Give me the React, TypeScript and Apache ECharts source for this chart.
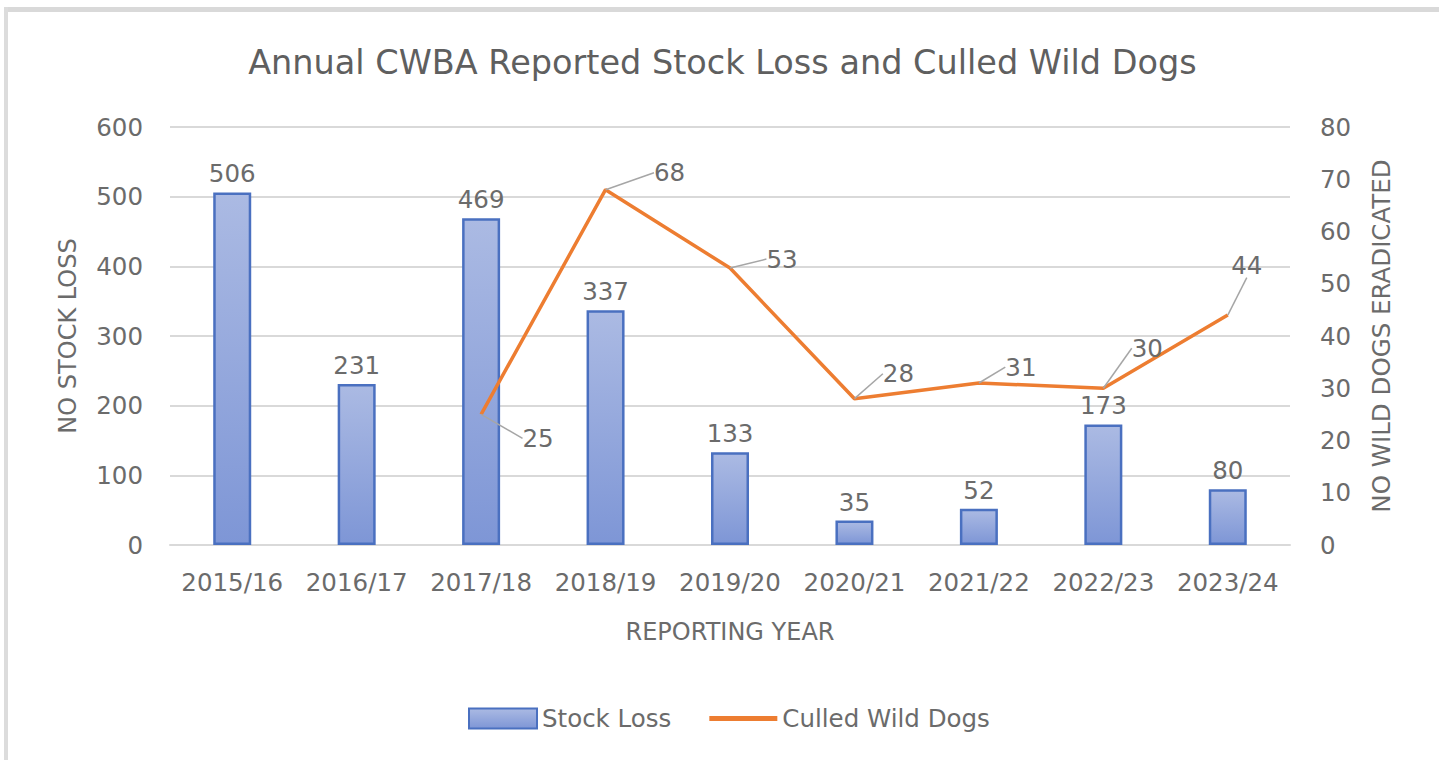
import React, { useEffect, useRef } from "react";
import * as echarts from "echarts";

const categories = ["2015/16", "2016/17", "2017/18", "2018/19", "2019/20", "2020/21", "2021/22", "2022/23", "2023/24"];
const stockLoss = [506, 231, 469, 337, 133, 35, 52, 173, 80];
const culledDogs: (number | string)[] = ["-", "-", 25, 68, 53, 28, 31, 30, 44];
const leftTicks = { min: 0, max: 600, interval: 100 };
const rightTicks = { min: 0, max: 80, interval: 10 };

// label offsets (style only) for the line's data labels
const lineLabelOffsets: [number, number][] = [
  [0, 0], [0, 0], [57, 24], [64, -17], [52, -9], [44, -25], [42, -16], [44, -40], [19, -50],
];

const FONT = "DejaVu Sans";
const TXT = "#6b6b6b";
const TICK = 24.5;

export default function App() {
  const ref = useRef<HTMLDivElement>(null);
  useEffect(() => {
    if (!ref.current) return;
    const chart = echarts.init(ref.current, null, { renderer: "svg" });
    chart.setOption({
      animation: false,
      backgroundColor: "#ffffff",
      textStyle: { fontFamily: FONT, color: TXT },
      title: {
        text: "Annual CWBA Reported Stock Loss and Culled Wild Dogs",
        left: "center",
        top: 40,
        textStyle: { fontFamily: FONT, fontSize: 33.5, fontWeight: "normal", color: "#5f5f5f" },
      },
      graphic: [
        { type: "rect", shape: { x: 4, y: 7, width: 1435, height: 5 }, style: { fill: "#d9d9d9" } },
        { type: "rect", shape: { x: 4, y: 7, width: 4, height: 753 }, style: { fill: "#dcdcdc" } },
      ],
      legend: {
        bottom: 24,
        left: 463,
        itemWidth: 68,
        itemHeight: 20,
        itemGap: 38,
        textStyle: { fontFamily: FONT, fontSize: 24.5, color: TXT },
        data: [
          { name: "Stock Loss", icon: "rect" },
          { name: "Culled Wild Dogs", icon: "path://M0,0L68,0L68,5L0,5Z" },
        ],
      },
      grid: { left: 170, right: 155, top: 127, bottom: 215, containLabel: false },
      xAxis: {
        type: "category",
        data: categories,
        name: "REPORTING YEAR",
        nameLocation: "middle",
        nameGap: 75,
        nameTextStyle: { fontFamily: FONT, fontSize: 24, color: TXT },
        axisLine: { show: true, lineStyle: { color: "#d9d9d9", width: 2 } },
        axisTick: { show: false },
        axisLabel: { interval: 0, margin: 25, fontFamily: FONT, fontSize: TICK, color: TXT },
      },
      yAxis: [
        {
          type: "value",
          min: leftTicks.min,
          max: leftTicks.max,
          interval: leftTicks.interval,
          name: "NO STOCK LOSS",
          nameLocation: "middle",
          nameGap: 90,
          nameTextStyle: { fontFamily: FONT, fontSize: 24, color: TXT },
          axisLabel: { margin: 27, fontFamily: FONT, fontSize: TICK, color: TXT },
          axisLine: { show: false },
          axisTick: { show: false },
          splitLine: { lineStyle: { color: "#d9d9d9", width: 2 } },
        },
        {
          type: "value",
          min: rightTicks.min,
          max: rightTicks.max,
          interval: rightTicks.interval,
          name: "NO WILD DOGS ERADICATED",
          nameLocation: "middle",
          nameGap: 79,
          nameTextStyle: { fontFamily: FONT, fontSize: 24.5, color: TXT },
          axisLabel: { margin: 30, fontFamily: FONT, fontSize: TICK, color: TXT },
          axisLine: { show: false },
          axisTick: { show: false },
          splitLine: { show: false },
        },
      ],
      series: [
        {
          name: "Stock Loss",
          type: "bar",
          yAxisIndex: 0,
          data: stockLoss,
          barWidth: 38,
          itemStyle: {
            color: new echarts.graphic.LinearGradient(0, 0, 0, 1, [
              { offset: 0, color: "#abbae3" },
              { offset: 1, color: "#7e96d6" },
            ]),
            borderColor: "#4a70c0",
            borderWidth: 2.5,
          },
          label: {
            show: true,
            position: "top",
            distance: 6,
            fontFamily: FONT,
            fontSize: TICK,
            color: TXT,
          },
        },
        {
          name: "Culled Wild Dogs",
          type: "line",
          yAxisIndex: 1,
          data: culledDogs,
          symbol: "circle",
          symbolSize: 0.1,
          showSymbol: true,
          itemStyle: { color: "#ed7d31" },
          lineStyle: { color: "#ed7d31", width: 3.5 },
          label: {
            show: true,
            position: "inside",
            fontFamily: FONT,
            fontSize: TICK,
            color: TXT,
          },
          labelLine: { show: true, lineStyle: { color: "#a6a6a6", width: 1.5 } },
          labelLayout: (params: any) => {
            const o = lineLabelOffsets[params.dataIndex] || [0, 0];
            return { dx: o[0], dy: o[1] };
          },
          z: 5,
        },
      ],
    });
    return () => chart.dispose();
  }, []);
  return <div ref={ref} style={{ position: "fixed", left: 0, top: 0, width: 1445, height: 760 }} />;
}
